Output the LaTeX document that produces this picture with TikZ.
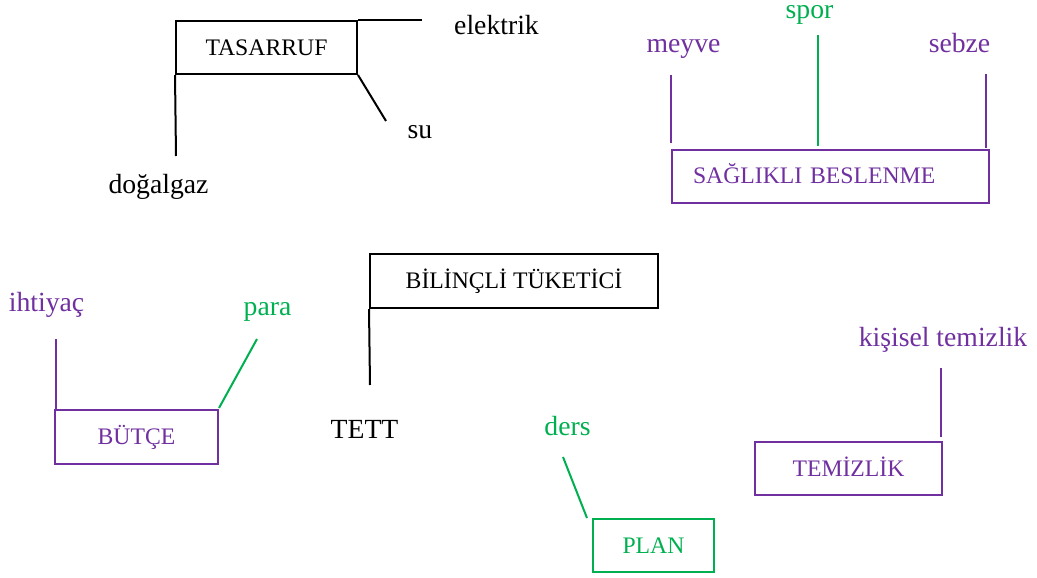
\documentclass[tikz,border=0pt]{standalone}
\usepackage{fontspec}
\setmainfont{Liberation Serif}
\definecolor{mor}{HTML}{7030A0}
\definecolor{yesil}{HTML}{00B050}
\tikzset{
  lbl/.style={anchor=base, inner sep=0pt, font=\fontsize{27.7}{30}\selectfont},
  kutu/.style={draw, line width=2pt, inner sep=0pt, anchor=center,
    font=\fontsize{23.7}{26}\selectfont, text height=15.6pt, text depth=0pt},
  bag/.style={line width=2pt}
}
\begin{document}
\begin{tikzpicture}[x=1pt, y=-1pt]
\useasboundingbox (0,0) rectangle (1037,578);

% TASARRUF
\node[kutu, minimum width=181pt, minimum height=53pt] (tas) at (266.5,47.5) {TASARRUF};
\node[lbl] (elektrik) at (496.5,35) {elektrik};
\node[lbl] (su) at (420,138) {su};
\node[lbl] (dogalgaz) at (158.5,193) {doğalgaz};
\coordinate (elE) at (422,20);
\coordinate (suE) at (386,121);
\coordinate (dogE) at (176,156);
\draw[bag] (tas.north east) -- (elE);
\draw[bag] (tas.south east) -- (suE);
\draw[bag] (tas.south west) -- (dogE);

% SAĞLIKLI BESLENME
\node[kutu, mor, minimum width=317pt, minimum height=53pt, inner xsep=21pt,
  text width=275pt, align=left] (sag) at (830.5,176) {SAĞLIKLI BESLENME};
\node[lbl, mor] (meyve) at (683.5,53) {meyve};
\node[lbl, yesil] (spor) at (809.5,19) {spor};
\node[lbl, mor] (sebze) at (959.5,53) {sebze};
\coordinate (meyT) at (671,75);
\coordinate (sporT) at (818,35);
\coordinate (sebT) at (986,74);
\draw[bag, mor] (meyT) -- ([yshift=6pt]meyT |- sag.north);
\draw[bag, yesil] (sporT) -- ([yshift=3pt]sporT |- sag.north);
\draw[bag, mor] (sebT) -- ([yshift=1pt]sebT |- sag.north);

% BİLİNÇLİ TÜKETİCİ
\node[kutu, minimum width=288pt, minimum height=54pt] (bil) at (514,281) {BİLİNÇLİ TÜKETİCİ};
\node[lbl] (tett) at (364.5,438) {TETT};
\coordinate (tettT) at (370,385);
\draw[bag] (bil.south west) -- (tettT);

% BÜTÇE
\node[kutu, mor, minimum width=163pt, minimum height=54pt] (but) at (136.5,437) {BÜTÇE};
\node[lbl, mor] (ihtiyac) at (46.5,311.5) {ihtiyaç};
\node[lbl, yesil] (para) at (267.5,315) {para};
\coordinate (ihtT) at (56,339);
\coordinate (paraT) at (257,339);
\draw[bag, mor] (ihtT) -- (ihtT |- but.north);
\draw[bag, yesil] (paraT) -- ([yshift=1pt]but.north east);

% PLAN
\node[kutu, yesil, minimum width=121pt, minimum height=53pt] (plan) at (653.5,545.5) {PLAN};
\node[lbl, yesil] (ders) at (567.5,435) {ders};
\coordinate (dersT) at (563,457);
\draw[bag, yesil] (dersT) -- ([xshift=-5pt]plan.north west);

% TEMİZLİK
\node[kutu, mor, minimum width=187pt, minimum height=53pt] (tem) at (848.5,468.5) {TEMİZLİK};
\node[lbl, mor] (kisisel) at (943,346) {kişisel temizlik};
\coordinate (kisT) at (941,368);
\draw[bag, mor] (kisT) -- ([yshift=4pt]kisT |- tem.north);
\end{tikzpicture}
\end{document}
